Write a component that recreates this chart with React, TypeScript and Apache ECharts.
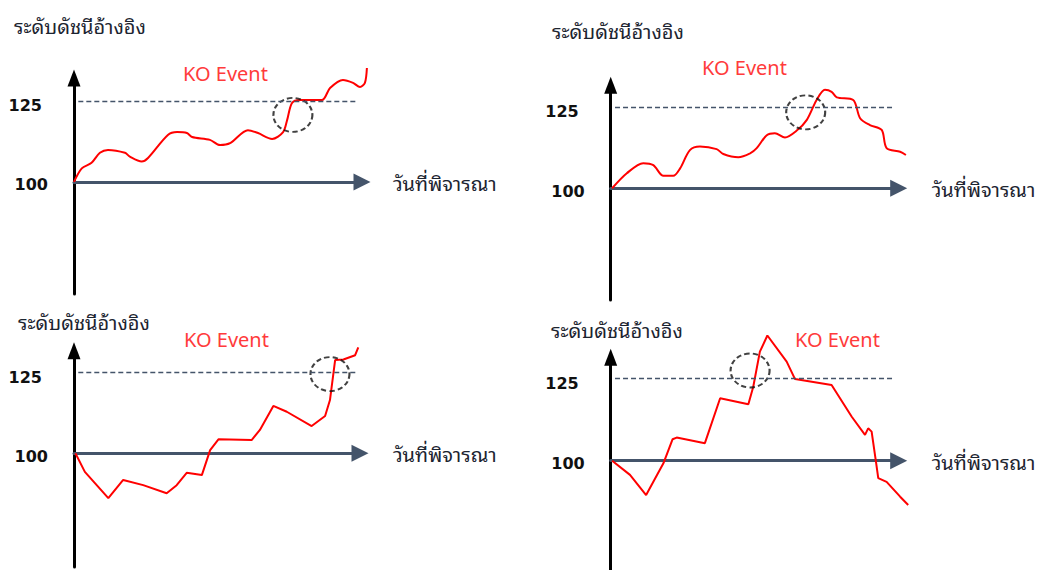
import React, { useEffect, useRef } from 'react';
import * as echarts from 'echarts';

// ---- texts ----
const yTitle = 'ระดับดัชนีอ้างอิง';
const xTitle = 'วันที่พิจารณา';
const koLabel = 'KO Event';
const baseLevel = 100;
const koLevel = 125;
const yTickLevels = [100, 125];

// ---- data (day index 0..100, index level) ----
const days1 = [0, 2.7, 6.1, 9.0, 11.8, 17.7, 19.4, 23.5, 25.7, 32.6, 35.8, 39.2, 41.0, 47.2, 50.7, 54.2, 60.4, 63.9, 68.8, 72.6, 74.0, 75.7, 78.5, 86.1, 88.9, 93.4, 96.9, 99.3, 101.0, 101.7];
const levels1 = [100, 104.2, 105.9, 109.0, 109.9, 109.0, 107.8, 106.3, 107.4, 114.5, 115.4, 115.1, 113.9, 113.0, 111.4, 112.0, 116.0, 115.1, 113.3, 115.4, 119.1, 124.4, 125.3, 125.3, 129.0, 131.5, 130.6, 129.3, 130.6, 135.2];
const ko1 = [76.0, 120.7];

const days2 = [0.5, 5.6, 11.3, 14.8, 18.3, 21.7, 24.1, 27.5, 31.0, 36.8, 39.1, 44.3, 48.4, 50.7, 54.2, 57.0, 60.5, 64.6, 68.1, 71.5, 74.4, 76.7, 78.5, 84.2, 86.6, 90.0, 94.1, 95.8, 100.5, 102.5];
const levels2 = [100, 104.6, 107.7, 107.1, 103.8, 103.8, 106.1, 111.7, 112.8, 112.0, 110.5, 109.5, 110.7, 112.3, 116.3, 116.9, 115.6, 117.7, 121.0, 127.1, 130.2, 129.6, 127.9, 127.1, 121.5, 119.4, 117.9, 112.3, 111.2, 110.2];
const ko2 = [67.7, 123.3];

const days3 = [0.5, 3.8, 12.0, 17.2, 24.2, 32.4, 35.9, 39.4, 44.7, 47.6, 50.5, 62.1, 65.0, 69.7, 74.4, 83.1, 87.8, 89.5, 91.3, 94.2, 98.3, 99.4];
const levels3 = [100, 94.3, 86.2, 91.8, 90.2, 87.7, 90.2, 94.0, 93.3, 101.0, 104.3, 104.1, 107.2, 114.6, 112.8, 108.4, 111.5, 116.4, 128.7, 128.9, 130.2, 132.6];
const ko3 = [89.5, 124.4];

const days4 = [0.5, 6.7, 12.3, 18.3, 21.5, 22.9, 32.7, 38.0, 47.8, 49.5, 51.8, 54.4, 61.1, 64.0, 76.7, 83.7, 88.3, 89.4, 90.6, 92.1, 92.9, 95.8, 100.5, 103.3];
const levels4 = [100, 95.7, 89.6, 99.2, 106.5, 107.0, 105.3, 118.9, 117.1, 122.4, 133.0, 137.9, 130.0, 124.7, 122.9, 113.3, 107.8, 109.8, 108.8, 99.7, 94.7, 93.6, 89.1, 86.6];
const ko4 = [48.4, 127.3];

// ---- layout ----
const panels = [
  { days: days1, levels: levels1, ko: ko1, smooth: 0.3, left: 74, width: 288, top: 78, bottom: 294, yMax: 32.1, yMin: -34.6, nameGap: 31, title: [14, 25], koText: [183, 73] },
  { days: days2, levels: levels2, ko: ko2, smooth: 0.3, left: 610.7, width: 288, top: 85.3, bottom: 300, yMax: 31.6, yMin: -34.3, nameGap: 33, title: [552, 30], koText: [702, 67] },
  { days: days3, levels: levels3, ko: ko3, smooth: false, left: 74, width: 286, top: 350.7, bottom: 567, yMax: 31.6, yMin: -35.0, nameGap: 33, title: [18, 321], koText: [184, 339] },
  { days: days4, levels: levels4, ko: ko4, smooth: false, left: 610.7, width: 288, top: 357.3, bottom: 570, yMax: 31.3, yMin: -33.1, nameGap: 33, title: [551, 329], koText: [795, 339] },
];

const THAI = "'Noto Sans Thai Looped', 'Noto Serif Thai', Loma, Garuda, Kinnari, Norasi, Tahoma, 'Noto Sans Thai', sans-serif";
const LATIN = "'Noto Sans', 'DejaVu Sans', sans-serif";
const DIGITS = "'DejaVu Sans', sans-serif";
const SLATE = '#44546a';
const TEXT = '#1c2430';
const EXTRA_X = 6;
const EXTRA_Y = 10;

export default function App() {
  const ref = useRef<HTMLDivElement>(null);
  useEffect(() => {
    if (!ref.current) return;
    const chart = echarts.init(ref.current, undefined, { renderer: 'svg' });
    const grid: any[] = [];
    const xAxis: any[] = [];
    const yAxis: any[] = [];
    const series: any[] = [];
    const graphic: any[] = [];
    panels.forEach((p, i) => {
      const h = p.bottom - p.top;
      const ppuY = h / (p.yMax - p.yMin);
      const ppuX = p.width / 100;
      // visible axes grid
      grid.push({ left: p.left, top: p.top, width: p.width, height: h, outerBoundsMode: 'none', containLabel: false });
      // wider hidden grid for the price path (same scale, so nothing is clipped)
      grid.push({ left: p.left, top: p.top - EXTRA_Y * ppuY, width: p.width + EXTRA_X * ppuX, height: h + EXTRA_Y * ppuY, outerBoundsMode: 'none', containLabel: false });
      const gi = i * 2;
      xAxis.push({
        type: 'value', gridIndex: gi, min: 0, max: 100,
        axisLine: { show: true, onZero: true, symbol: ['none', 'triangle'], symbolSize: [17, 17], lineStyle: { color: SLATE, width: 3 } },
        axisTick: { show: false }, axisLabel: { show: false }, splitLine: { show: false },
        name: xTitle, nameLocation: 'end', nameGap: p.nameGap,
        nameTextStyle: { fontSize: 20, color: TEXT, fontFamily: THAI, verticalAlign: 'middle' },
      });
      yAxis.push({
        type: 'value', gridIndex: gi, min: p.yMin, max: p.yMax,
        axisLine: { show: true, onZero: true, symbol: ['none', 'triangle'], symbolSize: [13, 17], lineStyle: { color: '#000', width: 3 } },
        axisTick: { show: false }, splitLine: { show: false },
        axisLabel: {
          customValues: yTickLevels.map((v) => v - baseLevel),
          margin: 26,
          formatter: (v: number) => (Math.round(v) === koLevel - baseLevel ? '{hi|' + koLevel + '}' : '{lo|' + baseLevel + '}'),
          rich: {
            hi: { fontSize: 16, fontWeight: 'bold', color: '#111', fontFamily: DIGITS, padding: [10, 6, 0, 0] },
            lo: { fontSize: 16, fontWeight: 'bold', color: '#111', fontFamily: DIGITS, padding: [6, 0, 0, 0] },
          },
        },
      });
      xAxis.push({ type: 'value', gridIndex: gi + 1, min: 0, max: 100 + EXTRA_X, show: false });
      yAxis.push({ type: 'value', gridIndex: gi + 1, min: p.yMin, max: p.yMax + EXTRA_Y, show: false });
      series.push({
        type: 'line', xAxisIndex: gi + 1, yAxisIndex: gi + 1, clip: false, showSymbol: false, silent: true,
        smooth: p.smooth,
        data: p.days.map((d, k) => [d, p.levels[k] - baseLevel]),
        lineStyle: { color: '#ff0000', width: 2 },
        z: 3,
      });
      series.push({
        type: 'scatter', xAxisIndex: gi, yAxisIndex: gi, clip: false, silent: true,
        data: [[p.ko[0], p.ko[1] - baseLevel]],
        symbol: 'circle', symbolSize: [39, 34],
        itemStyle: { color: 'rgba(0,0,0,0)', borderColor: '#111', borderWidth: 2, borderType: [5, 3] },
        markLine: {
          silent: true, symbol: 'none', label: { show: false },
          lineStyle: { type: [5, 3], color: SLATE, width: 1.3 },
          data: [[{ coord: [1.5, koLevel - baseLevel] }, { coord: [98.5, koLevel - baseLevel] }]],
        },
        z: 4,
      });
      graphic.push({
        type: 'text', x: p.title[0], y: p.title[1],
        style: { text: yTitle, fill: TEXT, font: `20px ${THAI}`, verticalAlign: 'middle' },
      });
      graphic.push({
        type: 'text', x: p.koText[0], y: p.koText[1],
        style: { text: koLabel, fill: '#ff3b3b', font: `20px ${LATIN}`, verticalAlign: 'middle' },
      });
    });
    chart.setOption({ animation: false, backgroundColor: '#fff', grid, xAxis, yAxis, series, graphic });
    return () => chart.dispose();
  }, []);
  return <div ref={ref} style={{ position: 'fixed', left: 0, top: 0, width: 1042, height: 570 }} />;
}
